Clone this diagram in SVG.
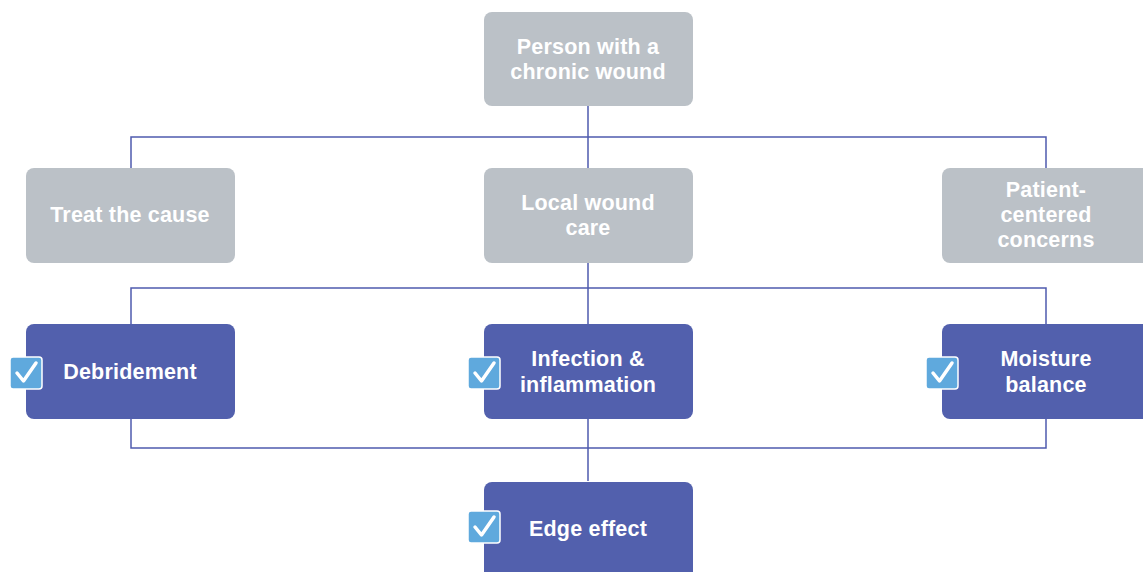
<svg xmlns="http://www.w3.org/2000/svg" width="1143" height="572" viewBox="0 0 1143 572">
<defs>
<style>
.g{fill:#BBC1C7}
.b{fill:#5260AD}
.t{fill:#fff;font-family:"Liberation Sans",Arial,sans-serif;font-weight:bold;font-size:21.5px;letter-spacing:0.2px;text-anchor:middle}
.c{fill:none;stroke:#4F5BAE;stroke-width:1.5}
.cb{fill:#5FA9DD;stroke:#fff;stroke-width:1.5}
.ck{fill:none;stroke:#fff;stroke-width:3.5;stroke-linecap:round;stroke-linejoin:round}
</style>
<g id="check">
<rect class="cb" x="0" y="0" width="32" height="32" rx="3"/>
<path class="ck" d="M7 16 L13.5 24 L26 6"/>
</g>
</defs>
<rect width="1143" height="572" fill="#fff"/>
<g id="connectors">
<path class="c" d="M588 106 V168 M131 168 V137 H1046 V168"/>
<path class="c" d="M588 263 V324 M131 324 V288 H1046 V324"/>
<path class="c" d="M131 419 V448 H1046 V419 M588 419 V481"/>
</g>
<g id="person">
<rect class="g" x="484" y="12" width="209" height="94" rx="8"/>
<text class="t" x="588" y="54">Person with a</text>
<text class="t" x="588" y="79">chronic wound</text>
</g>
<g id="treat">
<rect class="g" x="26" y="168" width="209" height="95" rx="8"/>
<text class="t" x="130" y="222">Treat the cause</text>
</g>
<g id="local">
<rect class="g" x="484" y="168" width="209" height="95" rx="8"/>
<text class="t" x="588" y="210">Local wound</text>
<text class="t" x="588" y="235">care</text>
</g>
<g id="patient">
<rect class="g" x="942" y="168" width="212" height="95" rx="8"/>
<text class="t" x="1046" y="197">Patient-</text>
<text class="t" x="1046" y="222">centered</text>
<text class="t" x="1046" y="247">concerns</text>
</g>
<g id="debridement">
<rect class="b" x="26" y="324" width="209" height="95" rx="8"/>
<use href="#check" x="10" y="357"/>
<text class="t" x="130" y="379">Debridement</text>
</g>
<g id="infection">
<rect class="b" x="484" y="324" width="209" height="95" rx="8"/>
<use href="#check" x="468" y="357"/>
<text class="t" x="588" y="366">Infection &amp;</text>
<text class="t" x="588" y="392">inflammation</text>
</g>
<g id="moisture">
<rect class="b" x="942" y="324" width="212" height="95" rx="8"/>
<use href="#check" x="926" y="357"/>
<text class="t" x="1046" y="366">Moisture</text>
<text class="t" x="1046" y="392">balance</text>
</g>
<g id="edge">
<rect class="b" x="484" y="482" width="209" height="100" rx="8"/>
<use href="#check" x="468" y="511"/>
<text class="t" x="588" y="536">Edge effect</text>
</g>
</svg>
